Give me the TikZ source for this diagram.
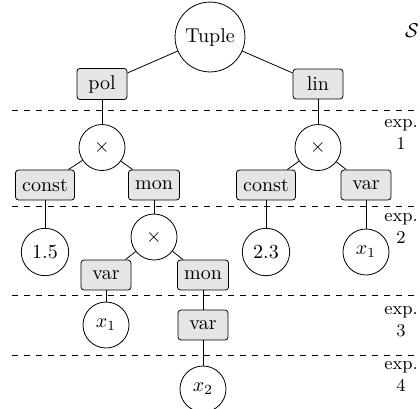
\documentclass[tikz,border=0pt]{standalone}
\begin{document}
\begin{tikzpicture}[x=0.5pt,y=-0.5pt,
  tag/.style={draw, rounded corners=1.5pt, fill=gray!20, minimum width=25pt, minimum height=15pt},
  op/.style={draw, circle, minimum size=23pt},
  expl/.style={font=\small, align=center, inner sep=0pt, anchor=north},
  sepline/.style={dashed}]
\useasboundingbox (0,0) rectangle (420,409);

% root
\node[draw, circle] (root) at (210,37) {Tuple};
\node (S) at (412,31) {$\mathcal{S}$};

% level 0 tags
\node[tag] (pol) at (102,84) {pol};
\node[tag] (lin) at (318,84) {lin};

% level 1
\node[op] (mulL) at (102,147.5) {$\times$};
\node[op] (mulR) at (318,147.5) {$\times$};
\node[tag] (constL) at (45,185) {const};
\node[tag] (monL) at (154,185) {mon};
\node[tag] (constR) at (266,185) {const};
\node[tag] (varR) at (366,185) {var};

% level 2
\node[op] (c15) at (45,252) {1.5};
\node[op] (mulM) at (154,237) {$\times$};
\node[op] (c23) at (266,252) {2.3};
\node[op] (x1R) at (366,252) {$x_1$};
\node[tag] (varL) at (106,275) {var};
\node[tag] (monM) at (203,275) {mon};

% level 3
\node[op] (x1L) at (106,325) {$x_1$};
\node[tag] (varB) at (203,325) {var};

% level 4
\node[op] (x2) at (203,389) {$x_2$};

% tree edges
\draw (root) -- (pol);
\draw (root) -- (lin);
\draw (pol) -- (mulL);
\draw (lin) -- (mulR);
\draw (mulL) -- (constL);
\draw (mulL) -- (monL);
\draw (mulR) -- (constR);
\draw (mulR) -- (varR);
\draw (constL) -- (c15);
\draw (monL) -- (mulM);
\draw (constR) -- (c23);
\draw (varR) -- (x1R);
\draw (mulM) -- (varL);
\draw (mulM) -- (monM);
\draw (varL) -- (x1L);
\draw (monM) -- (varB);
\draw (varB) -- (x2);

% expansion separators
\foreach \y in {110,206.5,295,355}
  \draw[sepline] (12,\y) -- (420,\y);

% expansion labels
\node[expl] (e1) at (401,119) {exp.\\1};
\node[expl] (e2) at (401,213) {exp.\\2};
\node[expl] (e3) at (401,306) {exp.\\3};
\node[expl] (e4) at (401,361) {exp.\\4};
\end{tikzpicture}
\end{document}
